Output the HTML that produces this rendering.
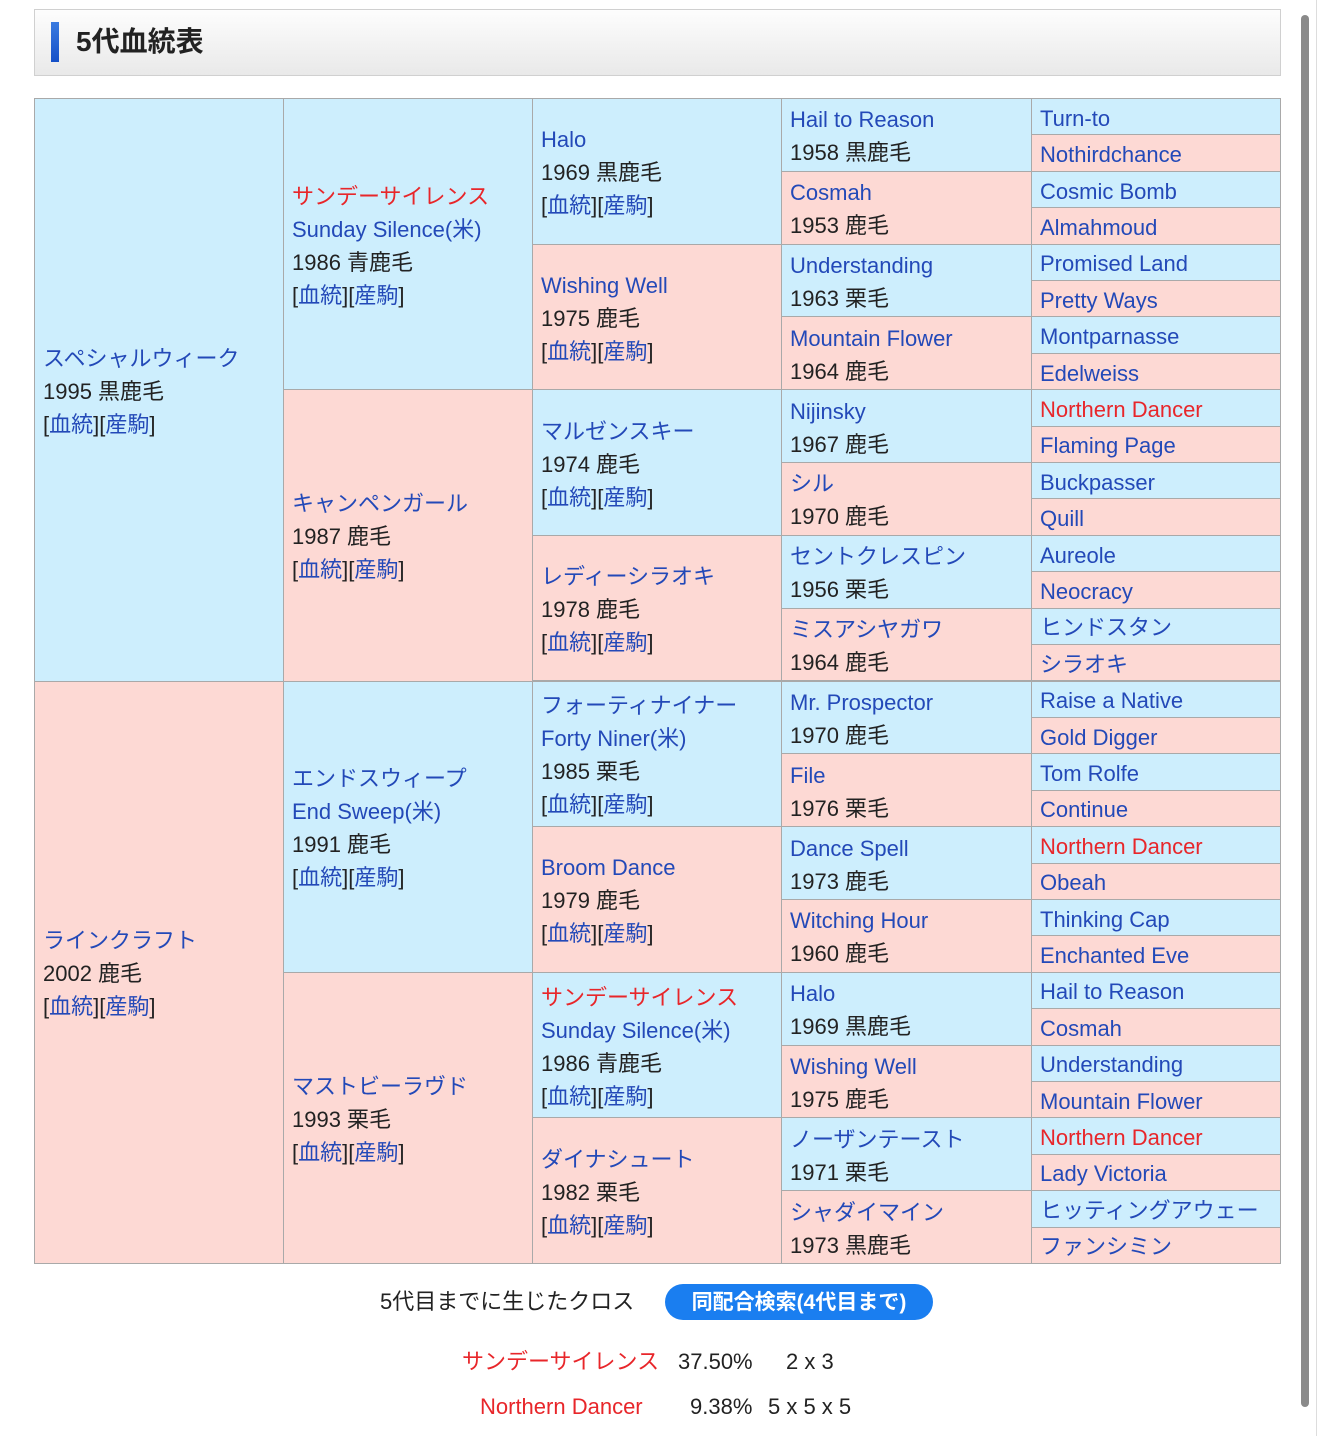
<!DOCTYPE html>
<html><head><meta charset="utf-8">
<style>
body{margin:0;width:1319px;height:1436px;background:#fff;position:relative;overflow:hidden;font-family:"Liberation Sans","Noto Sans CJK JP",sans-serif;color:#222}
.hd{position:absolute;left:34px;top:9px;width:1247px;height:67px;box-sizing:border-box;border:1px solid #d0d0d0;background:linear-gradient(#fdfdfd,#e9e9e9)}
.bar{position:absolute;left:16px;top:12px;width:8px;height:40px;background:linear-gradient(#3a7be0,#1550c8)}
.ttl{position:absolute;left:41px;top:14px;font-size:28px;font-weight:bold;color:#222;line-height:36px}
.c{position:absolute;box-sizing:border-box;border:1px solid #a9a9a9;display:flex;flex-direction:column;justify-content:center;padding-left:8px;padding-top:3px;font-size:22px;line-height:33px;white-space:nowrap}
.m{background:#cdeefd}.f{background:#fdd9d4}
.g1{left:34px;width:250px;height:583.5px}
.g2{left:283px;width:250px;height:292.3px}
.g3{left:532px;width:250px;height:146.6px}
.g4{left:781px;width:251px;height:73.8px}
.g5{left:1031px;width:250px;height:37.4px;padding-left:8px}
a{color:#2349b8;text-decoration:none}
.r{color:#e8262a}
.sb{position:absolute;left:1301px;top:15px;width:8px;height:1392px;border-radius:4px;background:#8a8a8a}
.ln{position:absolute;left:1316px;top:0;width:1px;height:1436px;background:#ddd}
.t{position:absolute;font-size:22px;line-height:30px;white-space:nowrap}
.btn{position:absolute;left:665px;top:1284px;width:268px;height:36px;border-radius:18px;background:#1a7ef0;color:#fff;font-weight:bold;font-size:21px;line-height:37px;text-align:center}
</style></head><body>
<div class="hd"><div class="bar"></div><div class="ttl">5代血統表</div></div>

<div class="c g1 m" style="top:98px"><a>スペシャルウィーク</a><span>1995 黒鹿毛</span><span>[<a>血統</a>][<a>産駒</a>]</span></div>
<div class="c g1 f" style="top:680.5px"><a>ラインクラフト</a><span>2002 鹿毛</span><span>[<a>血統</a>][<a>産駒</a>]</span></div>

<div class="c g2 m" style="top:98px"><span class="r">サンデーサイレンス</span><a>Sunday Silence(米)</a><span>1986 青鹿毛</span><span>[<a>血統</a>][<a>産駒</a>]</span></div>
<div class="c g2 f" style="top:389.25px"><a>キャンペンガール</a><span>1987 鹿毛</span><span>[<a>血統</a>][<a>産駒</a>]</span></div>
<div class="c g2 m" style="top:680.5px"><a>エンドスウィープ</a><a>End Sweep(米)</a><span>1991 鹿毛</span><span>[<a>血統</a>][<a>産駒</a>]</span></div>
<div class="c g2 f" style="top:971.75px"><a>マストビーラヴド</a><span>1993 栗毛</span><span>[<a>血統</a>][<a>産駒</a>]</span></div>

<div class="c g3 m" style="top:98px"><a>Halo</a><span>1969 黒鹿毛</span><span>[<a>血統</a>][<a>産駒</a>]</span></div>
<div class="c g3 f" style="top:243.63px"><a>Wishing Well</a><span>1975 鹿毛</span><span>[<a>血統</a>][<a>産駒</a>]</span></div>
<div class="c g3 m" style="top:389.25px"><a>マルゼンスキー</a><span>1974 鹿毛</span><span>[<a>血統</a>][<a>産駒</a>]</span></div>
<div class="c g3 f" style="top:534.88px"><a>レディーシラオキ</a><span>1978 鹿毛</span><span>[<a>血統</a>][<a>産駒</a>]</span></div>
<div class="c g3 m" style="top:680.5px"><a>フォーティナイナー</a><a>Forty Niner(米)</a><span>1985 栗毛</span><span>[<a>血統</a>][<a>産駒</a>]</span></div>
<div class="c g3 f" style="top:826.13px"><a>Broom Dance</a><span>1979 鹿毛</span><span>[<a>血統</a>][<a>産駒</a>]</span></div>
<div class="c g3 m" style="top:971.75px"><span class="r">サンデーサイレンス</span><a>Sunday Silence(米)</a><span>1986 青鹿毛</span><span>[<a>血統</a>][<a>産駒</a>]</span></div>
<div class="c g3 f" style="top:1117.38px"><a>ダイナシュート</a><span>1982 栗毛</span><span>[<a>血統</a>][<a>産駒</a>]</span></div>

<div class="c g4 m" style="top:98px"><a>Hail to Reason</a><span>1958 黒鹿毛</span></div>
<div class="c g4 f" style="top:170.81px"><a>Cosmah</a><span>1953 鹿毛</span></div>
<div class="c g4 m" style="top:243.63px"><a>Understanding</a><span>1963 栗毛</span></div>
<div class="c g4 f" style="top:316.44px"><a>Mountain Flower</a><span>1964 鹿毛</span></div>
<div class="c g4 m" style="top:389.25px"><a>Nijinsky</a><span>1967 鹿毛</span></div>
<div class="c g4 f" style="top:462.06px"><a>シル</a><span>1970 鹿毛</span></div>
<div class="c g4 m" style="top:534.88px"><a>セントクレスピン</a><span>1956 栗毛</span></div>
<div class="c g4 f" style="top:607.69px"><a>ミスアシヤガワ</a><span>1964 鹿毛</span></div>
<div class="c g4 m" style="top:680.5px"><a>Mr. Prospector</a><span>1970 鹿毛</span></div>
<div class="c g4 f" style="top:753.31px"><a>File</a><span>1976 栗毛</span></div>
<div class="c g4 m" style="top:826.13px"><a>Dance Spell</a><span>1973 鹿毛</span></div>
<div class="c g4 f" style="top:898.94px"><a>Witching Hour</a><span>1960 鹿毛</span></div>
<div class="c g4 m" style="top:971.75px"><a>Halo</a><span>1969 黒鹿毛</span></div>
<div class="c g4 f" style="top:1044.56px"><a>Wishing Well</a><span>1975 鹿毛</span></div>
<div class="c g4 m" style="top:1117.38px"><a>ノーザンテースト</a><span>1971 栗毛</span></div>
<div class="c g4 f" style="top:1190.19px"><a>シャダイマイン</a><span>1973 黒鹿毛</span></div>

<div class="c g5 m" style="top:98px"><a>Turn-to</a></div>
<div class="c g5 f" style="top:134.41px"><a>Nothirdchance</a></div>
<div class="c g5 m" style="top:170.81px"><a>Cosmic Bomb</a></div>
<div class="c g5 f" style="top:207.22px"><a>Almahmoud</a></div>
<div class="c g5 m" style="top:243.63px"><a>Promised Land</a></div>
<div class="c g5 f" style="top:280.03px"><a>Pretty Ways</a></div>
<div class="c g5 m" style="top:316.44px"><a>Montparnasse</a></div>
<div class="c g5 f" style="top:352.84px"><a>Edelweiss</a></div>
<div class="c g5 m" style="top:389.25px"><span class="r">Northern Dancer</span></div>
<div class="c g5 f" style="top:425.66px"><a>Flaming Page</a></div>
<div class="c g5 m" style="top:462.06px"><a>Buckpasser</a></div>
<div class="c g5 f" style="top:498.47px"><a>Quill</a></div>
<div class="c g5 m" style="top:534.88px"><a>Aureole</a></div>
<div class="c g5 f" style="top:571.28px"><a>Neocracy</a></div>
<div class="c g5 m" style="top:607.69px"><a>ヒンドスタン</a></div>
<div class="c g5 f" style="top:644.09px"><a>シラオキ</a></div>
<div class="c g5 m" style="top:680.5px"><a>Raise a Native</a></div>
<div class="c g5 f" style="top:716.91px"><a>Gold Digger</a></div>
<div class="c g5 m" style="top:753.31px"><a>Tom Rolfe</a></div>
<div class="c g5 f" style="top:789.72px"><a>Continue</a></div>
<div class="c g5 m" style="top:826.13px"><span class="r">Northern Dancer</span></div>
<div class="c g5 f" style="top:862.53px"><a>Obeah</a></div>
<div class="c g5 m" style="top:898.94px"><a>Thinking Cap</a></div>
<div class="c g5 f" style="top:935.34px"><a>Enchanted Eve</a></div>
<div class="c g5 m" style="top:971.75px"><a>Hail to Reason</a></div>
<div class="c g5 f" style="top:1008.16px"><a>Cosmah</a></div>
<div class="c g5 m" style="top:1044.56px"><a>Understanding</a></div>
<div class="c g5 f" style="top:1080.97px"><a>Mountain Flower</a></div>
<div class="c g5 m" style="top:1117.38px"><span class="r">Northern Dancer</span></div>
<div class="c g5 f" style="top:1153.78px"><a>Lady Victoria</a></div>
<div class="c g5 m" style="top:1190.19px"><a>ヒッティングアウェー</a></div>
<div class="c g5 f" style="top:1226.59px"><a>ファンシミン</a></div>

<div class="t" style="left:380px;top:1287px">5代目までに生じたクロス</div>
<div class="btn">同配合検索(4代目まで)</div>
<div class="t r" style="left:462px;top:1347px">サンデーサイレンス</div>
<div class="t" style="left:678px;top:1347px">37.50%</div>
<div class="t" style="left:786px;top:1347px">2 x 3</div>
<div class="t r" style="left:480px;top:1392px">Northern Dancer</div>
<div class="t" style="left:690px;top:1392px">9.38%</div>
<div class="t" style="left:768px;top:1392px">5 x 5 x 5</div>

<div class="sb"></div><div class="ln"></div>
</body></html>
